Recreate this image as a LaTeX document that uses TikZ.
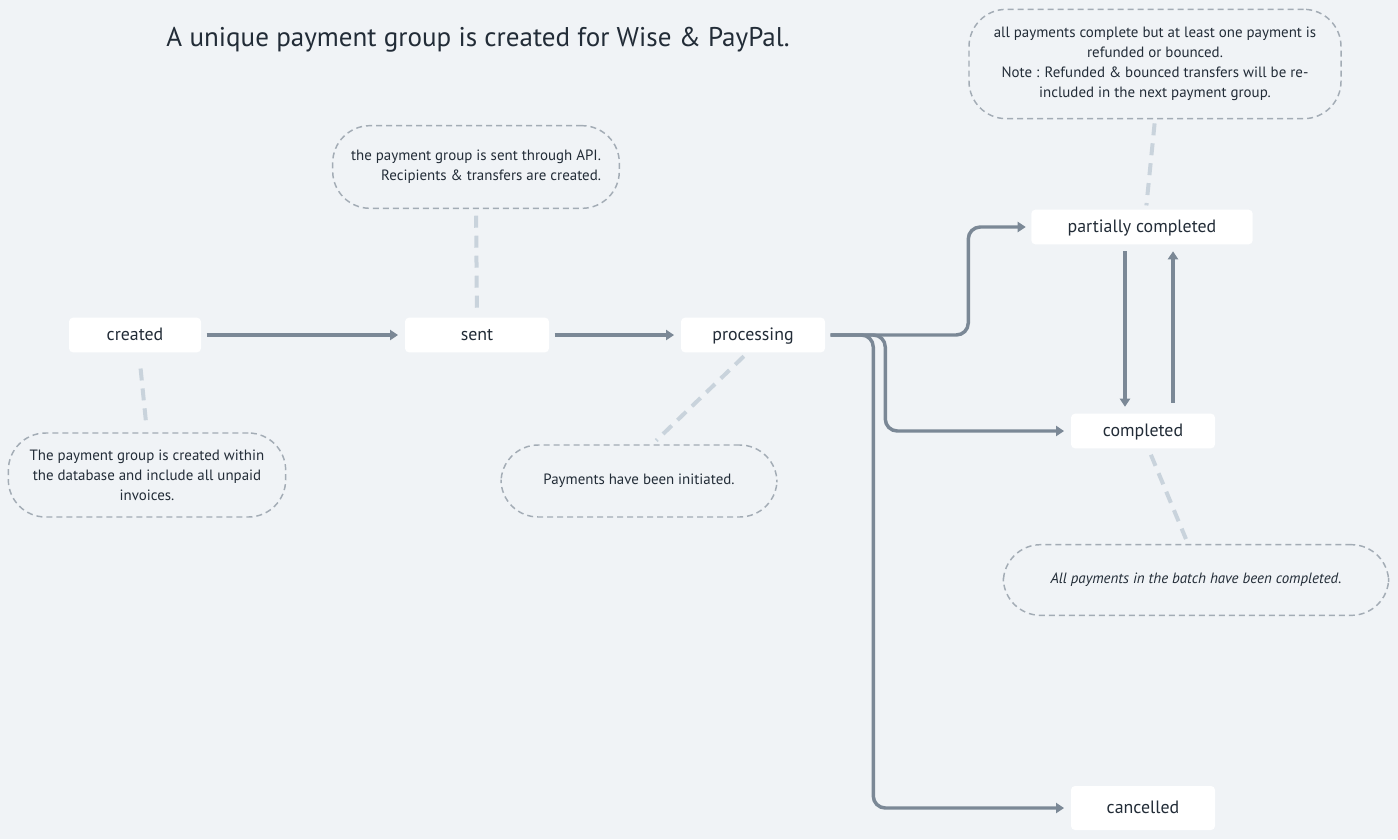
\documentclass[tikz,border=0pt]{standalone}
\usepackage{fontspec}
\setmainfont{PT Sans}
\usetikzlibrary{arrows.meta, positioning, calc}
\usepackage{xcolor}
\definecolor{bgcol}{HTML}{F0F3F6}
\definecolor{flowcol}{HTML}{7B8896}
\definecolor{notecol}{HTML}{A3ACB5}
\definecolor{linkcol}{HTML}{C9D3DC}
\definecolor{inkcol}{HTML}{222C37}

\begin{document}
\begin{tikzpicture}[x=0.75pt, y=-0.75pt,
    state/.style={fill=white, rounded corners=3pt, minimum height=26pt, text height=11pt, text depth=3pt, text=inkcol, font=\fontsize{13.4}{15}\selectfont},
    note/.style={draw=notecol, line width=1.1pt, dash pattern=on 4.5pt off 3pt, rounded corners=28pt, align=center, text=inkcol, font=\fontsize{11.2}{15}\selectfont},
    flow/.style={draw=flowcol, line width=2.6pt, -{Triangle[length=6pt, width=7.5pt]}, rounded corners=9pt},
    link/.style={draw=linkcol, line width=3pt, dash pattern=on 9pt off 6pt}]
    \fill[bgcol] (0,0) rectangle (1398,839);
    \node[text=inkcol, font=\fontsize{20.3}{24}\selectfont] (title) at (478,40) {A unique payment group is created for Wise \& PayPal.};

    \node[state, minimum width=99pt] (created) at (135,335) {created};
    \node[state, minimum width=108pt] (sent) at (477,335) {sent};
    \node[state, minimum width=108pt] (processing) at (753,335) {processing};
    \node[state, minimum width=166pt] (partially) at (1142,227) {partially completed};
    \node[state, minimum width=108pt] (completed) at (1143,431) {completed};
    \node[state, minimum width=108pt, minimum height=33pt] (cancelled) at (1143,808) {cancelled};

    \node[note, minimum width=208pt, minimum height=63pt] (createdNote) at (147,475) {The payment group is created within\\the database and include all unpaid\\invoices.};
    \node[note, minimum width=215pt, minimum height=62pt, align=right] (sentNote) at (476,167) {the payment group is sent through API.\\Recipients \& transfers are created.};
    \node[note, minimum width=207pt, minimum height=54pt] (processingNote) at (639,481) {Payments have been initiated.};
    \node[note, minimum width=279pt, minimum height=82pt] (partiallyNote) at (1155,64) {all payments complete but at least one payment is\\refunded or bounced.\\Note : Refunded \& bounced transfers will be re-\\included in the next payment group.};
    \node[note, minimum width=289pt, minimum height=53pt, font=\fontsize{11.2}{15}\selectfont\itshape] (completedNote) at (1196,580) {All payments in the batch have been completed.};

    \draw[flow, shorten <=4pt, shorten >=5pt] (created) -- (sent);
    \draw[flow, shorten <=4pt, shorten >=5pt] (sent) -- (processing);
    \draw[flow, shorten <=4pt, shorten >=4pt] (processing.east) -- ++(143,0) |- (partially.west);
    \draw[flow, shorten <=4pt, shorten >=5pt] (processing.east) -- ++(60,0) |- (completed.west);
    \draw[flow, shorten <=4pt, shorten >=5pt] (processing.east) -- ++(48,0) |- (cancelled.west);
    \draw[flow, shorten <=5pt, shorten >=5pt] ([xshift=-12.75pt]partially.south) -- ([xshift=-12.75pt]partially.south |- completed.north);
    \draw[flow, shorten <=8pt, shorten >=5pt] ([xshift=22.5pt]completed.north) -- ([xshift=22.5pt]completed.north |- partially.south);

    \draw[link, shorten <=12pt, shorten >=4pt] ([xshift=3pt]created.south) -- (createdNote.north);
    \draw[link, shorten <=5pt, shorten >=5pt] (sentNote.south) -- (sent.north);
    \draw[link, shorten <=4pt, shorten >=4pt] ([xshift=-4pt]processing.south) -- ([xshift=10pt]processingNote.north);
    \draw[link, shorten <=3pt, shorten >=3pt] (partiallyNote.south) -- ([xshift=3pt]partially.north);
    \draw[link, shorten <=5pt, shorten >=4pt] ([xshift=4pt]completed.south) -- ([xshift=-6pt]completedNote.north);
\end{tikzpicture}
\end{document}
